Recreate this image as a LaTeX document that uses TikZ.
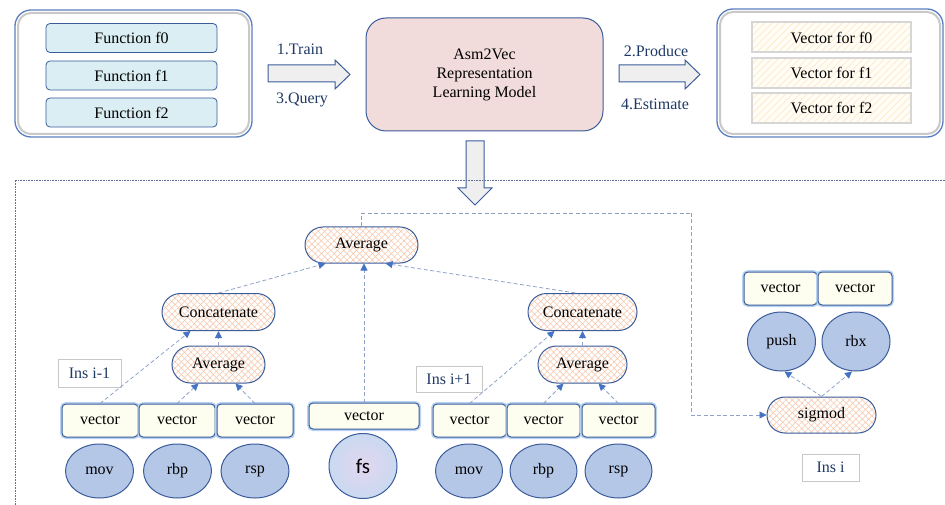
\documentclass[tikz,border=0pt]{standalone}
\usepackage{fontspec}
\setmainfont{Liberation Serif}
\newfontfamily\fsfont{Carlito}
\usetikzlibrary{arrows.meta,patterns.meta,shapes.geometric,shapes.misc}
\definecolor{bordc}{HTML}{3B5C9A}
\definecolor{outc}{HTML}{5A7FC0}
\definecolor{shadc}{HTML}{C9C9C9}
\definecolor{funcc}{HTML}{DAEEF3}
\definecolor{modelc}{HTML}{F2DCDB}
\definecolor{rowfill}{HTML}{FFFDF6}
\definecolor{stripec}{HTML}{FCEDCF}
\definecolor{rowbord}{HTML}{D6D6D6}
\definecolor{arrowfill}{HTML}{EFEFEF}
\definecolor{labc}{HTML}{1F3864}
\definecolor{hatchc}{HTML}{F6C3A6}
\definecolor{vecfill}{HTML}{FEFEF0}
\definecolor{glowc}{HTML}{B7D3F0}
\definecolor{ellc}{HTML}{B4C7E7}
\definecolor{fsin}{HTML}{E3D6EF}
\definecolor{fsout}{HTML}{C9D9F1}
\definecolor{insbord}{HTML}{C8C8C8}
\definecolor{connc}{HTML}{8FA3C8}
\definecolor{tipc}{HTML}{4472C4}
\definecolor{dotc}{HTML}{5A6E96}
\begin{document}
\begin{tikzpicture}[x=1pt,y=-1pt,font=\fontsize{16}{19}\selectfont,
  outerbox/.style={draw=outc,line width=1.3pt,fill=white,rounded corners=16pt},
  innershade/.style={draw=shadc,line width=2pt,rounded corners=13pt},
  func/.style={draw=bordc,fill=funcc,rounded corners=4pt,minimum width=171pt,minimum height=29pt,inner sep=0pt,line width=0.8pt},
  model/.style={draw=bordc,fill=modelc,rounded corners=20pt,minimum width=237pt,minimum height=113pt,align=center,line width=1pt,inner sep=0pt},
  vecrow/.style={draw=rowbord,line width=2pt,preaction={fill=rowfill},preaction={pattern={Lines[angle=45,distance=5pt,line width=0.9pt]},pattern color=stripec},minimum width=159pt,minimum height=30pt,inner sep=0pt},
  blockarrow/.style={draw=bordc,fill=arrowfill,line width=1pt,line join=miter},
  lab/.style={text=labc,inner sep=0pt},
  stad/.style={rounded rectangle,draw=bordc,line width=1pt,preaction={fill=white},
    preaction={pattern={Lines[angle=45,distance=4.5pt,line width=0.5pt]},pattern color=hatchc},
    preaction={pattern={Lines[angle=-45,distance=4.5pt,line width=0.5pt]},pattern color=hatchc},
    minimum height=37pt,inner sep=0pt},
  vec/.style={draw=bordc,fill=vecfill,rounded corners=4pt,line width=1pt,preaction={draw=glowc,line width=4pt,rounded corners=4pt},minimum height=33pt,inner sep=0pt},
  ell/.style={ellipse,draw=bordc,fill=ellc,line width=1pt,minimum width=68pt,minimum height=54pt,inner sep=0pt},
  ins/.style={draw=insbord,line width=0.8pt,text=labc,inner sep=0pt},
  conn/.style={draw=connc,line width=0.8pt,dash pattern=on 4pt off 2.5pt,-{Triangle[length=7pt,width=7pt,color=tipc]}},
  link/.style={draw=connc!90!gray,line width=0.8pt,dash pattern=on 4pt off 2.5pt}]
\useasboundingbox (0,0) rectangle (945,505);

% ---------- top row ----------
\draw[outerbox] (15,10) rectangle (252,137);
\draw[innershade] (18,13) rectangle (249,134);
\node[func] (f0) at (131.5,38) {Function f0};
\node[func] (f1) at (131.5,75.5) {Function f1};
\node[func] (f2) at (131.5,112.5) {Function f2};

\draw[blockarrow] (268,65) -- (335,65) -- (335,60) -- (350,74.5) -- (335,89) -- (335,82) -- (268,82) -- cycle;
\node[lab] (train) at (300,49) {1.Train};
\node[lab] (query) at (302,100) {3.Query};

\node[model] (model) at (484.5,74.5) {Asm2Vec\\Representation\\Learning Model};

\draw[blockarrow] (619,65) -- (685,65) -- (685,60) -- (700,74.5) -- (685,89) -- (685,82) -- (619,82) -- cycle;
\node[lab] (produce) at (656,51) {2.Produce};
\node[lab] (estimate) at (655,104) {4.Estimate};

\draw[outerbox] (717,9) rectangle (943,137);
\draw[innershade] (720,12) rectangle (940,134);
\node[vecrow] (v0) at (831.5,37.5) {Vector for f0};
\node[vecrow] (v1) at (831.5,73) {Vector for f1};
\node[vecrow] (v2) at (831.5,108) {Vector for f2};

\draw[blockarrow] (466,141) -- (484,141) -- (484,188) -- (492,188) -- (475,205) -- (458,188) -- (466,188) -- cycle;

% dotted frame
\draw[dotc,line width=0.9pt,dash pattern=on 0.8pt off 0.8pt] (15,505) -- (15,180) -- (945,180);

% ---------- bottom ----------
\node[stad,minimum width=113pt,minimum height=36pt] (avgT) at (361.5,245) {Average};
\node[stad,minimum width=113pt] (concL) at (218.5,312) {Concatenate};
\node[stad,minimum width=93pt] (avgL) at (218.5,364.5) {Average};
\node[stad,minimum width=109pt] (concR) at (582.5,312) {Concatenate};
\node[stad,minimum width=89pt] (avgR) at (582.5,364.5) {Average};
\node[stad,minimum width=109pt,minimum height=36pt] (sig) at (821.5,415) {sigmod};

\node[ins,minimum width=63pt,minimum height=28pt] (insL) at (89.5,373) {Ins i-1};
\node[ins,minimum width=66pt,minimum height=26pt] (insR) at (449,379) {Ins i+1};
\node[ins,minimum width=57pt,minimum height=27pt] (insI) at (830.5,467.5) {Ins i};

\node[vec,minimum width=76pt] (vL1) at (100,420.5) {vector};
\node[vec,minimum width=76pt] (vL2) at (177,420.5) {vector};
\node[vec,minimum width=76pt] (vL3) at (255,420.5) {vector};
\node[vec,minimum width=110pt,minimum height=26pt] (vfs) at (364,416) {vector};
\node[vec,minimum width=73pt] (vR1) at (469.5,420.5) {vector};
\node[vec,minimum width=73pt] (vR2) at (543.5,420.5) {vector};
\node[vec,minimum width=73pt] (vR3) at (618.5,420.5) {vector};
\node[vec,minimum width=73pt] (vP) at (780.5,288.5) {vector};
\node[vec,minimum width=74pt] (vX) at (855,288.5) {vector};

\node[ell] (movL) at (99.5,471) {mov};
\node[ell] (rbpL) at (177.5,471) {rbp};
\node[ell] (rspL) at (255,471) {rsp};
\node[ellipse,draw=bordc,inner color=fsin,outer color=fsout,line width=1pt,minimum width=68pt,minimum height=65pt,inner sep=0pt,font=\fsfont\fontsize{21}{24}\selectfont] (fs) at (363,466) {fs};
\node[ell,minimum width=67pt] (movR) at (469,471) {mov};
\node[ell,minimum width=67pt] (rbpR) at (543.5,471) {rbp};
\node[ell,minimum width=67pt] (rspR) at (618.5,471) {rsp};
\node[ell,minimum height=59pt] (push) at (781.5,341.5) {push};
\node[ell,minimum height=59pt] (rbx) at (856,341.5) {rbx};

% connectors
\draw[conn] (concL.north) -- ([xshift=-36pt]avgT.south);
\draw[conn] (vfs.north) -- (vfs.north |- avgT.south);
\draw[conn] ([xshift=-7pt]concR.north) -- ([xshift=24pt]avgT.south);
\draw[conn] (vL1.north) -- ([xshift=-28pt]concL.south);
\draw[conn] (avgL.north) -- (concL.south);
\draw[conn] (vL2.north) -- ([xshift=-20pt]avgL.south);
\draw[conn] (vL3.north) -- ([xshift=17pt]avgL.south);
\draw[conn] (vR1.north) -- ([xshift=-28pt]concR.south);
\draw[conn] (avgR.north) -- (concR.south);
\draw[conn] (vR2.north) -- ([xshift=-19pt]avgR.south);
\draw[conn] (vR3.north) -- ([xshift=16pt]avgR.south);
\draw[conn] (sig.north) -- ([xshift=3pt]push.south);
\draw[conn] (sig.north) -- ([xshift=-4pt]rbx.south);
\coordinate (turn) at (691,213);
\draw[link] (avgT.north) |- (turn);
\draw[conn] (turn) |- (sig.west);
\end{tikzpicture}
\end{document}
